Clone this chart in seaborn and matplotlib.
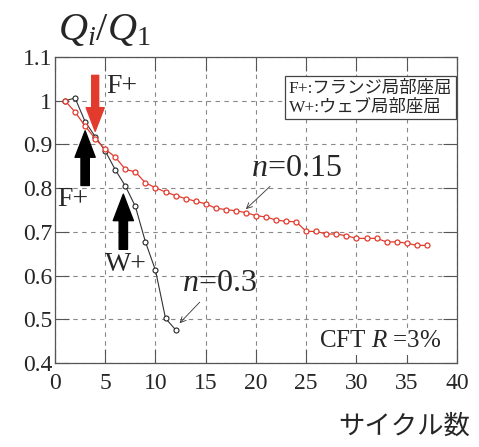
import matplotlib
matplotlib.use("Agg")
import matplotlib.pyplot as plt
from matplotlib.patches import FancyArrowPatch
import seaborn as sns
import pandas as pd

# ---- data ----
cycles_015 = list(range(1, 38))
q_015 = [1.000, 0.974, 0.942, 0.913, 0.889, 0.871, 0.843, 0.837, 0.812, 0.801,
         0.791, 0.783, 0.776, 0.770, 0.764, 0.754, 0.751, 0.748, 0.744, 0.737,
         0.734, 0.727, 0.724, 0.723, 0.701, 0.701, 0.695, 0.695, 0.691, 0.685,
         0.685, 0.685, 0.677, 0.677, 0.674, 0.669, 0.669]
cycles_03 = list(range(1, 13))
q_03 = [1.000, 1.006, 0.952, 0.918, 0.885, 0.842, 0.805, 0.758, 0.677, 0.612,
        0.502, 0.476]
x_ticks = [0, 5, 10, 15, 20, 25, 30, 35, 40]
y_ticks = [0.4, 0.5, 0.6, 0.7, 0.8, 0.9, 1.0, 1.1]
y_tick_labels = ["0.4", "0.5", "0.6", "0.7", "0.8", "0.9", "1", "1.1"]

sns.set_style("ticks")
plt.rcParams["font.family"] = ["Liberation Serif", "Noto Sans CJK JP", "DejaVu Sans"]
plt.rcParams["mathtext.fontset"] = "custom"
plt.rcParams["mathtext.rm"] = "Liberation Serif"
plt.rcParams["mathtext.it"] = "Liberation Serif:italic"

fig = plt.figure(figsize=(4.79, 4.47), dpi=100)
ax = fig.add_axes([0.1148, 0.188, 0.954 - 0.1148, 0.8725 - 0.188])

df015 = pd.DataFrame({"x": cycles_015, "y": q_015})
df03 = pd.DataFrame({"x": cycles_03, "y": q_03})

red = "#e23b2e"
sns.lineplot(data=df015, x="x", y="y", ax=ax, color=red, lw=0.9, marker="o",
             markersize=3.6, markerfacecolor="white", markeredgecolor=red,
             markeredgewidth=0.9, zorder=4)
sns.lineplot(data=df03, x="x", y="y", ax=ax, color="#333333", lw=0.8, marker="o",
             markersize=3.6, markerfacecolor="white", markeredgecolor="#222222",
             markeredgewidth=0.8, zorder=3)

ax.set_xlim(0, 40)
ax.set_ylim(0.4, 1.1)
ax.set_xticks(x_ticks)
ax.set_yticks(y_ticks)
ax.set_yticklabels(y_tick_labels)
ax.tick_params(direction="in", length=10, width=0.8, labelsize=17,
               top=True, right=True, color="#555555", pad=2)
ax.tick_params(axis="x", pad=7)
ax.grid(True, color="#888888", linestyle=(0, (4, 4)), lw=0.8)
for s in ax.spines.values():
    s.set_color("#555555")
    s.set_linewidth(0.9)
ax.set_xlabel("")
ax.set_ylabel("")

# title / axis label
fig.text(0.122, 0.89, r"$Q_i/Q_1$", fontsize=29, ha="left", va="bottom")
fig.text(0.982, 0.047, "サイクル数", fontsize=19, ha="right", va="center",
         family=["Noto Sans CJK JP"])

# thick arrows
def big_arrow(x0, y0, x1, y1, color, hw, hl, tw):
    p = FancyArrowPatch((x0, y0), (x1, y1), transform=ax.transData,
                        arrowstyle=f"simple,head_length={hl},head_width={hw},tail_width={tw}",
                        mutation_scale=10, color=color, shrinkA=0, shrinkB=0, zorder=6)
    ax.add_patch(p)

big_arrow(4.0, 1.058, 4.0, 0.930, red, 1.3, 1.7, 0.5)
big_arrow(3.0, 0.806, 3.0, 0.931, "black", 1.45, 1.9, 0.6)
big_arrow(6.8, 0.660, 6.8, 0.786, "black", 1.45, 1.9, 0.6)

ax.text(5.1, 1.033, "F+", fontsize=20, ha="left", va="center", zorder=7)
ax.text(1.8, 0.775, "F+", fontsize=20, ha="center", va="center", zorder=7)
ax.text(7.1, 0.626, "W+", fontsize=20, ha="center", va="center", zorder=7)

# n labels with thin arrows
ax.annotate("", xy=(19.0, 0.752), xytext=(21.4, 0.804),
            arrowprops=dict(arrowstyle="->", lw=0.6, color="#333333",
                            shrinkA=0, shrinkB=0), zorder=7)
ax.text(24.0, 0.845, r"$n$=0.15", fontsize=23, ha="center", va="center", zorder=7)
ax.annotate("", xy=(12.4, 0.491), xytext=(14.4, 0.539),
            arrowprops=dict(arrowstyle="->", lw=0.6, color="#333333",
                            shrinkA=0, shrinkB=0), zorder=7)
ax.text(16.4, 0.582, r"$n$=0.3", fontsize=23, ha="center", va="center", zorder=7)

# legend box
ax.text(0.988, 0.925, "F+:フランジ局部座屈\nW+:ウェブ局部座屈", transform=ax.transAxes,
        fontsize=12.5, ha="right", va="top", linespacing=1.2, multialignment="left",
        family=["Liberation Serif", "Noto Sans CJK JP"],
        bbox=dict(boxstyle="square,pad=0.2", fc="white", ec="#444444", lw=0.9),
        zorder=8)

# CFT label
ax.text(0.962, 0.035, r"CFT $R$ =3%", transform=ax.transAxes, fontsize=18,
        ha="right", va="bottom", zorder=8,
        bbox=dict(boxstyle="square,pad=0.1", fc="white", ec="none"))

fig.savefig("out.png", dpi=100)
